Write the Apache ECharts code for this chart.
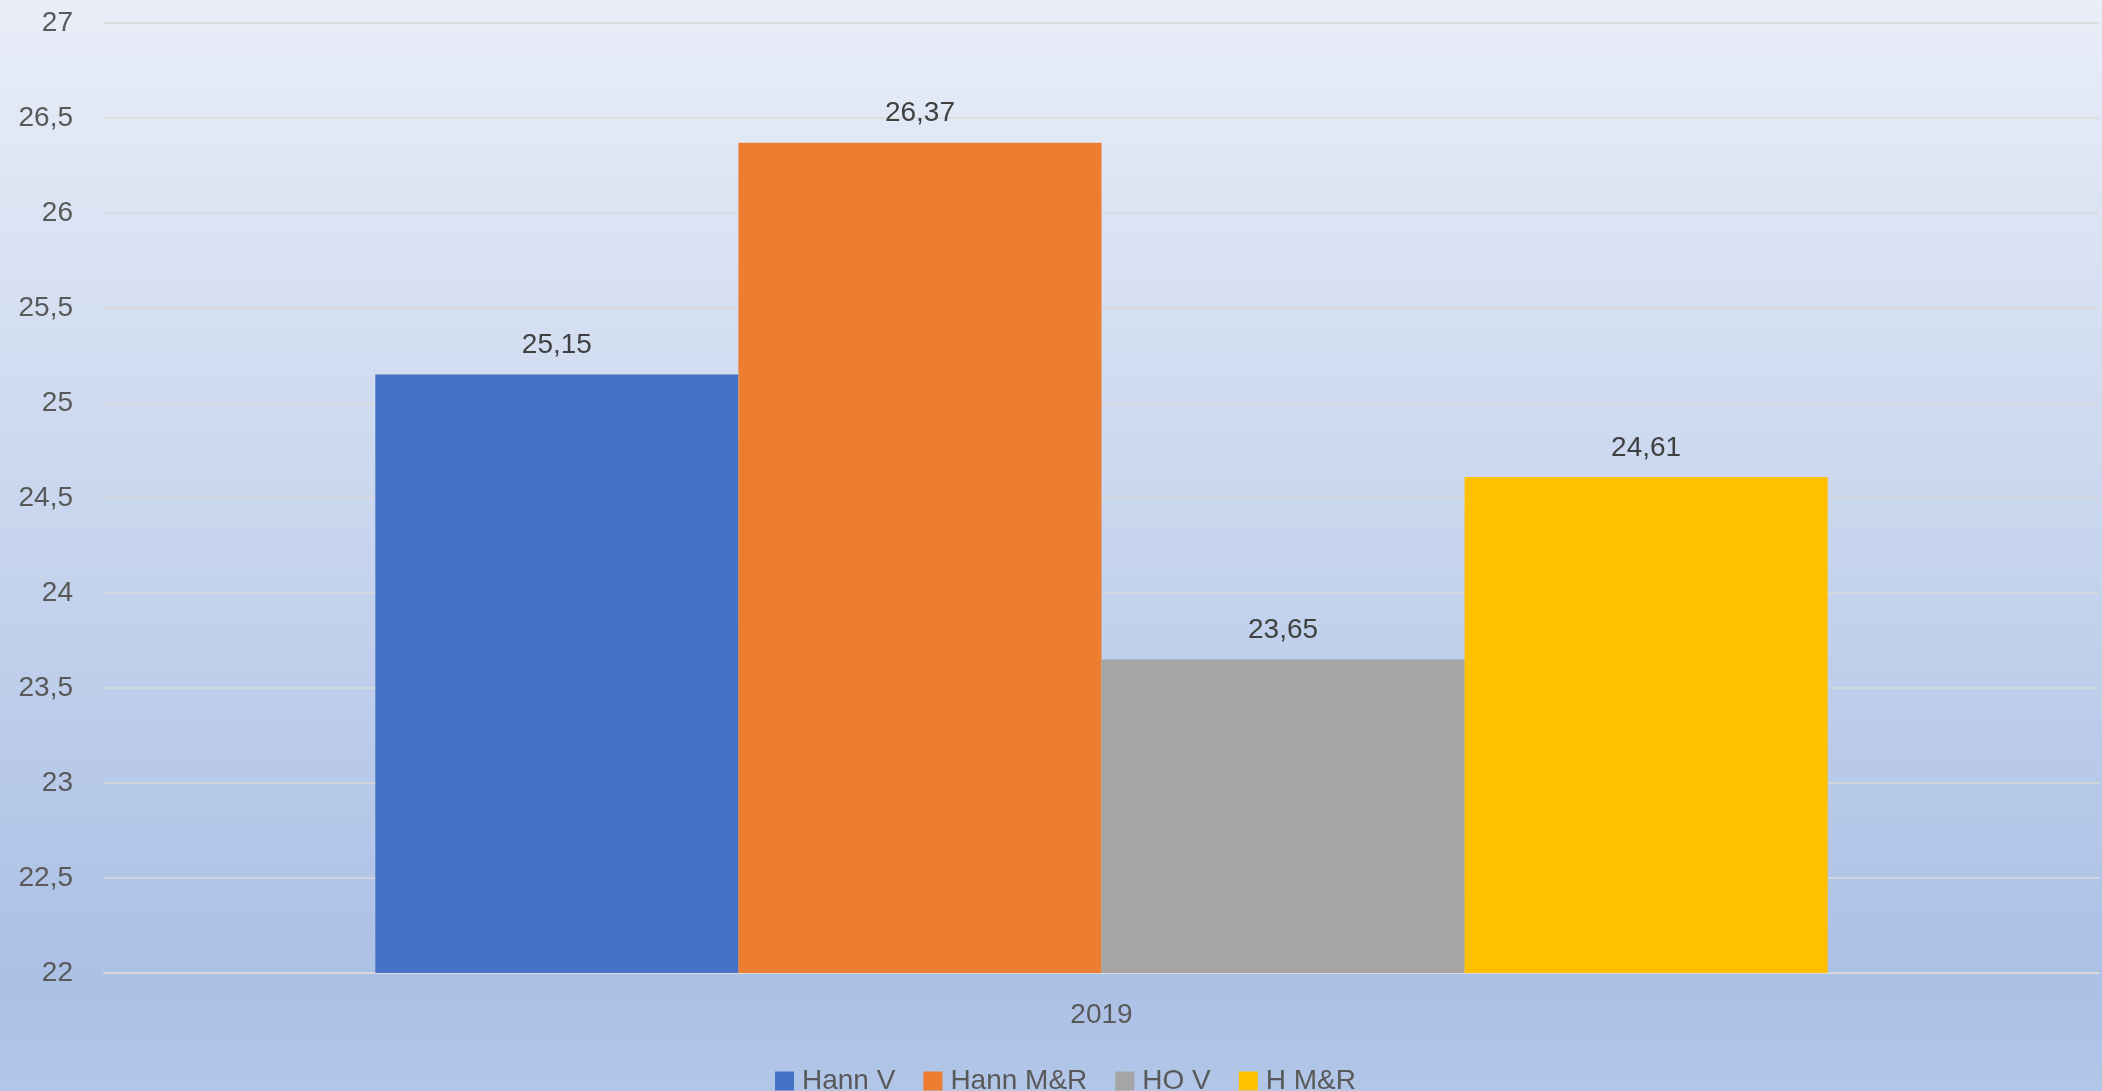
<!DOCTYPE html>
<html style="height: 100%">
<head>
  <meta charset="utf-8">
  <script src="https://cdn.jsdelivr.net/npm/echarts@6/dist/echarts.min.js"></script>
</head>
<body style="height: 100%; margin: 0">
<div id="main" style="width: 2102px; height: 1091px;"></div>
<script>
var categories = ['2019'];
var seriesNames = ['Hann V', 'Hann M&R', 'HO V', 'H M&R'];
var seriesValues = [[25.15], [26.37], [23.65], [24.61]];
var seriesColors = ['#4472C4', '#ED7D31', '#A5A5A5', '#FFC000'];

function comma(v) {
  return String(v).replace('.', ',');
}

var chart = echarts.init(document.getElementById('main'));
var font = 'Liberation Sans, Arial, sans-serif';

var series = seriesNames.map(function (name, i) {
  return {
    name: name,
    type: 'bar',
    data: seriesValues[i],
    barGap: '0%',
    barCategoryGap: '27.2%',
    itemStyle: {color: seriesColors[i]},
    label: {
      show: true,
      position: 'top',
      distance: 15,
      color: '#404040',
      fontSize: 28,
      fontFamily: font,
      formatter: function (p) { return comma(p.value); }
    }
  };
});

var option = {
  backgroundColor: new echarts.graphic.LinearGradient(0, 0, 0, 1, [
    {offset: 0, color: '#E9EEF8'},
    {offset: 0.9, color: '#ABC0E5'},
    {offset: 1, color: '#B2C6E8'}
  ]),
  animation: false,
  grid: {left: 104, right: 3, top: 23, bottom: 118},
  legend: {
    data: seriesNames,
    top: 1062,
    left: 770,
    icon: 'rect',
    itemWidth: 19,
    itemHeight: 19,
    itemGap: 28,
    textStyle: {color: '#595959', fontSize: 28, fontFamily: font, padding: [0, 0, 0, 3]}
  },
  xAxis: {
    type: 'category',
    data: categories,
    axisLine: {lineStyle: {color: '#D9D9D9', width: 2}},
    axisTick: {show: false},
    axisLabel: {color: '#595959', fontSize: 28, fontFamily: font, margin: 28}
  },
  yAxis: {
    type: 'value',
    min: 22,
    max: 27,
    interval: 0.5,
    axisLine: {show: false},
    axisTick: {show: false},
    splitLine: {lineStyle: {color: '#D9D9D9', width: 1.5}},
    axisLabel: {
      color: '#595959',
      fontSize: 28,
      fontFamily: font,
      margin: 31,
      formatter: comma
    }
  },
  series: series
};
chart.setOption(option);
</script>
</body>
</html>
